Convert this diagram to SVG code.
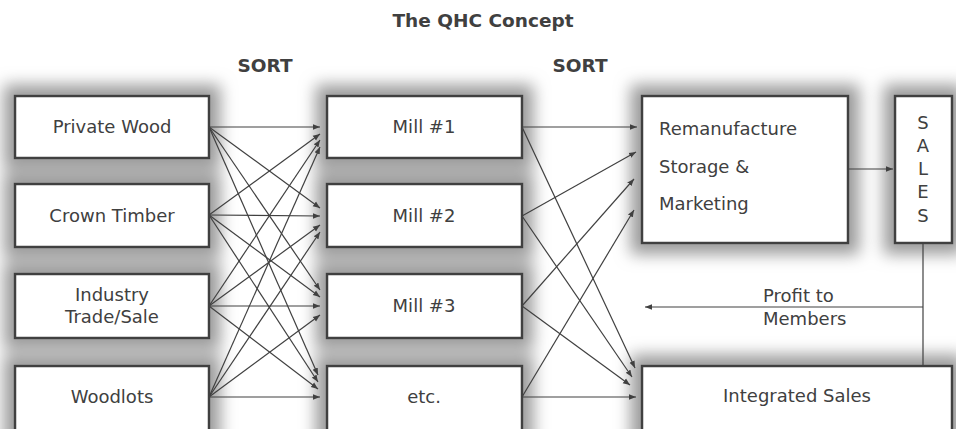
<svg xmlns="http://www.w3.org/2000/svg" width="956" height="429" viewBox="0 0 956 429">
<defs>
<filter id="sh" x="-30%" y="-60%" width="160%" height="220%">
<feMorphology in="SourceAlpha" operator="dilate" radius="10" result="d"/>
<feGaussianBlur in="d" stdDeviation="8" result="b"/>
<feFlood flood-color="#9a9a9a" flood-opacity="1"/>
<feComposite in2="b" operator="in" result="s"/>
<feMerge><feMergeNode in="s"/><feMergeNode in="SourceGraphic"/></feMerge>
</filter>
<marker id="ah" viewBox="0 0 10 10" refX="10" refY="5" markerWidth="7" markerHeight="7" markerUnits="userSpaceOnUse" orient="auto">
<path d="M0,1 L10,5 L0,9 z" fill="#404040"/>
</marker>
</defs>
<style>
.box{fill:#fff;stroke:#404040;stroke-width:2.5}
.t{font-family:"DejaVu Sans",Verdana,sans-serif;font-size:18px;fill:#404040}
.c{text-anchor:middle}
.b{font-weight:bold;font-size:18.5px}
.ln{stroke:#404040;stroke-width:1.2;fill:none}
.ar{marker-end:url(#ah)}
</style>
<rect width="956" height="429" fill="#fff"/>
<text class="t b c" x="483" y="27">The QHC Concept</text>
<text class="t b c" x="265" y="72">SORT</text>
<text class="t b c" x="580" y="72">SORT</text>

<g id="shadows" filter="url(#sh)">
<rect class="box" x="15" y="96" width="194" height="62"/>
<rect class="box" x="15" y="184" width="194" height="63"/>
<rect class="box" x="15" y="274" width="194" height="64"/>
<rect class="box" x="15" y="366" width="194" height="70"/>
<rect class="box" x="327" y="96" width="195" height="62"/>
<rect class="box" x="327" y="184" width="195" height="63"/>
<rect class="box" x="327" y="274" width="195" height="64"/>
<rect class="box" x="327" y="366" width="195" height="70"/>
<rect class="box" x="642" y="96" width="206" height="147"/>
<rect class="box" x="895" y="96" width="57" height="147"/>
<rect class="box" x="642" y="366" width="310" height="70"/>
</g>

<g id="connectors">
<line class="ln ar" x1="209" y1="127" x2="320" y2="127"/>
<line class="ln ar" x1="209" y1="127" x2="320" y2="208"/>
<line class="ln ar" x1="209" y1="127" x2="320" y2="290"/>
<line class="ln ar" x1="209" y1="127" x2="318" y2="375"/>
<line class="ln ar" x1="209" y1="215" x2="320" y2="134"/>
<line class="ln ar" x1="209" y1="215" x2="320" y2="216"/>
<line class="ln ar" x1="209" y1="215" x2="320" y2="297"/>
<line class="ln ar" x1="209" y1="215" x2="318" y2="382"/>
<line class="ln ar" x1="209" y1="306" x2="320" y2="140"/>
<line class="ln ar" x1="209" y1="306" x2="320" y2="225"/>
<line class="ln ar" x1="209" y1="306" x2="320" y2="306"/>
<line class="ln ar" x1="209" y1="306" x2="318" y2="389"/>
<line class="ln ar" x1="209" y1="397" x2="320" y2="147"/>
<line class="ln ar" x1="209" y1="397" x2="320" y2="232"/>
<line class="ln ar" x1="209" y1="397" x2="320" y2="315"/>
<line class="ln ar" x1="209" y1="397" x2="320" y2="397"/>
<line class="ln ar" x1="522" y1="127" x2="637" y2="127"/>
<line class="ln ar" x1="522" y1="216" x2="636" y2="152"/>
<line class="ln ar" x1="522" y1="306" x2="634" y2="179"/>
<line class="ln ar" x1="522" y1="397" x2="634" y2="210"/>
<line class="ln ar" x1="522" y1="127" x2="635" y2="368"/>
<line class="ln ar" x1="522" y1="216" x2="632" y2="377"/>
<line class="ln ar" x1="522" y1="306" x2="630" y2="385"/>
<line class="ln ar" x1="522" y1="397" x2="636" y2="397"/>
<line class="ln ar" x1="848" y1="169" x2="893" y2="169"/>
<line class="ln" x1="923" y1="243" x2="923" y2="366"/>
<line class="ln ar" x1="923" y1="307" x2="645" y2="307"/>
</g>

<g id="n-private"><text class="t c" x="112" y="133">Private Wood</text></g>
<g id="n-crown"><text class="t c" x="112" y="222">Crown Timber</text></g>
<g id="n-industry"><text class="t c" x="112" y="301">Industry</text><text class="t c" x="112" y="323">Trade/Sale</text></g>
<g id="n-woodlots"><text class="t c" x="112" y="403">Woodlots</text></g>
<g id="n-mill1"><text class="t c" x="424" y="133">Mill #1</text></g>
<g id="n-mill2"><text class="t c" x="424" y="222">Mill #2</text></g>
<g id="n-mill3"><text class="t c" x="424" y="312">Mill #3</text></g>
<g id="n-etc"><text class="t c" x="424" y="403">etc.</text></g>
<g id="n-reman"><text class="t" x="659" y="135">Remanufacture</text><text class="t" x="659" y="173">Storage &amp;</text><text class="t" x="659" y="210">Marketing</text></g>
<g id="n-sales"><text class="t c" x="923" y="129">S</text><text class="t c" x="923" y="152">A</text><text class="t c" x="923" y="175">L</text><text class="t c" x="923" y="198">E</text><text class="t c" x="923" y="222">S</text></g>
<g id="n-integrated"><text class="t c" x="797" y="402">Integrated Sales</text></g>
<g id="profit"><text class="t" x="763" y="302">Profit to</text><text class="t" x="763" y="325">Members</text></g>
</svg>
